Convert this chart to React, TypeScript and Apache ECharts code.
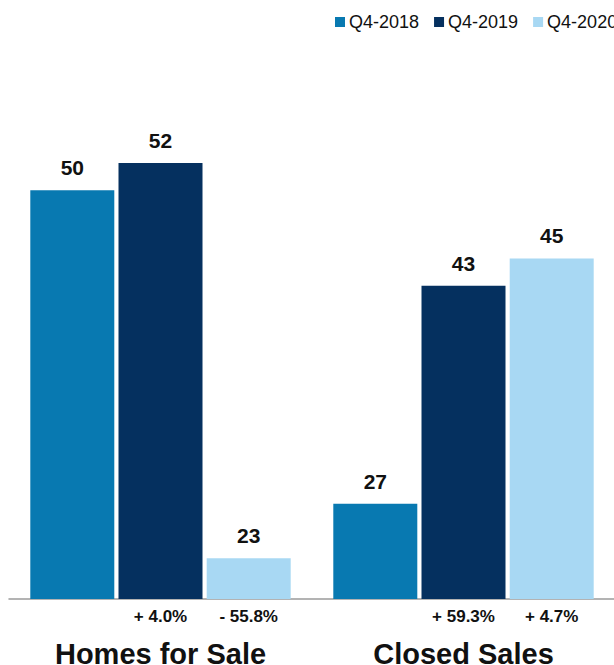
import React, { useEffect, useRef } from "react";
import * as echarts from "echarts";

const categories = ["Homes for Sale", "Closed Sales"];
const seriesNames = ["Q4-2018", "Q4-2019", "Q4-2020"];
const q42018 = [50, 27];
const q42019 = [52, 43];
const q42020 = [23, 45];
const change2019 = ["+ 4.0%", "+ 59.3%"];
const change2020 = ["- 55.8%", "+ 4.7%"];
const colors = ["#0879b1", "#05305f", "#a8d8f3"];

const Y_MIN = 20;
const Y_MAX = 60;
const FONT = "'Liberation Sans', Arial, Helvetica, sans-serif";

function changeMarks(labels: string[]) {
  return {
    symbol: "rect",
    symbolSize: 1,
    itemStyle: { color: "rgba(0,0,0,0)" },
    label: {
      show: true,
      position: "inside",
      offset: [0, 17],
      fontFamily: FONT,
      fontSize: 17,
      fontWeight: "bold",
      color: "#111",
    },
    data: labels.map((t, i) => ({
      coord: [i, Y_MIN],
      value: t,
      label: { formatter: t },
    })),
  };
}

export default function App() {
  const ref = useRef<HTMLDivElement>(null);
  useEffect(() => {
    if (!ref.current) return;
    const chart = echarts.init(ref.current, null, { renderer: "svg" });
    const valueLabel = {
      show: true,
      position: "top",
      distance: 12,
      fontFamily: FONT,
      fontSize: 21,
      fontWeight: "bold",
      color: "#111",
    };
    const values = [q42018, q42019, q42020];
    chart.setOption({
      animation: false,
      textStyle: { fontFamily: FONT },
      legend: {
        left: 330,
        top: 8,
        itemWidth: 10,
        itemHeight: 10,
        itemGap: 15,
        icon: "rect",
        textStyle: { fontFamily: FONT, fontSize: 18, color: "#111", padding: [0, 0, 0, -1] },
        data: seriesNames,
      },
      grid: {
        left: 9,
        right: 35,
        top: 54,
        bottom: 66,
        containLabel: false,
        outerBoundsMode: "none",
      },
      xAxis: {
        type: "category",
        data: categories,
        axisLine: { show: true, lineStyle: { color: "#9a9a9a", width: 1.5 } },
        axisTick: { show: false },
        axisLabel: {
          margin: 40,
          fontFamily: FONT,
          fontSize: 29,
          fontWeight: "bold",
          color: "#111",
        },
      },
      yAxis: {
        type: "value",
        min: Y_MIN,
        max: Y_MAX,
        show: false,
        splitLine: { show: false },
      },
      series: seriesNames.map((name, si) => ({
        name,
        type: "bar",
        data: values[si],
        barWidth: 84,
        barGap: "5%",
        itemStyle: { color: colors[si] },
        label: valueLabel,
        markPoint:
          si === 1 ? changeMarks(change2019) : si === 2 ? changeMarks(change2020) : undefined,
      })),
    });
    return () => chart.dispose();
  }, []);
  return (
    <div
      style={{
        position: "absolute",
        left: 0,
        top: 0,
        width: 614,
        height: 665,
        overflow: "hidden",
        background: "#fff",
      }}
    >
      <div ref={ref} style={{ width: 650, height: 665 }} />
    </div>
  );
}
